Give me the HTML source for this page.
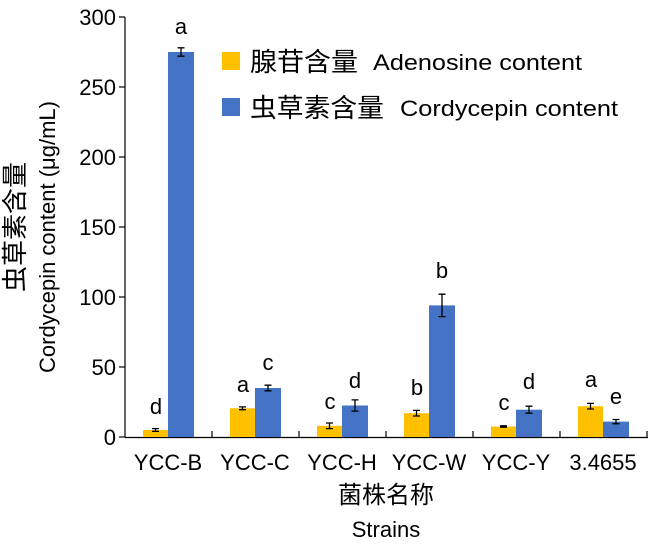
<!DOCTYPE html>
<html><head><meta charset="utf-8"><style>
html,body{margin:0;padding:0;background:#fff;}
svg text{font-family:"Liberation Sans","Noto Sans CJK SC",sans-serif;fill:#000;}
</style></head><body>
<svg width="650" height="549" viewBox="0 0 650 549" xmlns="http://www.w3.org/2000/svg">
<g font-size="22">
<line x1="125" y1="17" x2="125" y2="437.5" stroke="#000" stroke-width="1.2"/>
<line x1="125" y1="437.5" x2="648" y2="437.5" stroke="#000" stroke-width="1.2"/>
<g stroke="#000" stroke-width="1.2">
<line x1="119" y1="17" x2="125" y2="17"/><line x1="119" y1="87" x2="125" y2="87"/>
<line x1="119" y1="157" x2="125" y2="157"/><line x1="119" y1="227" x2="125" y2="227"/>
<line x1="119" y1="297" x2="125" y2="297"/><line x1="119" y1="367" x2="125" y2="367"/>
<line x1="119" y1="437" x2="125" y2="437"/>
<line x1="212" y1="431" x2="212" y2="437"/><line x1="299" y1="431" x2="299" y2="437"/>
<line x1="386" y1="431" x2="386" y2="437"/><line x1="473" y1="431" x2="473" y2="437"/>
<line x1="560" y1="431" x2="560" y2="437"/><line x1="647" y1="431" x2="647" y2="437"/>
</g>
<g text-anchor="end">
<text x="116" y="25">300</text><text x="116" y="95">250</text><text x="116" y="165">200</text>
<text x="116" y="235">150</text><text x="116" y="305">100</text><text x="116" y="375">50</text>
<text x="116" y="445">0</text>
</g>
<g fill="#FFC000">
<rect x="143" y="430" width="25" height="7"/>
<rect x="230" y="408.3" width="25" height="28.7"/>
<rect x="317" y="425.8" width="25" height="11.2"/>
<rect x="404" y="413.2" width="25" height="23.8"/>
<rect x="491" y="426.5" width="25" height="10.5"/>
<rect x="578" y="406.2" width="25" height="30.8"/>
</g>
<g fill="#4472C4">
<rect x="168" y="52" width="26" height="385"/>
<rect x="255" y="388" width="26" height="49"/>
<rect x="342" y="405.5" width="26" height="31.5"/>
<rect x="429" y="305.4" width="26" height="131.6"/>
<rect x="516" y="409.7" width="26" height="27.3"/>
<rect x="603" y="421.6" width="26" height="15.4"/>
</g>
<g stroke="#000" stroke-width="1.3">
<path d="M155.5 428.6V431.4M152 428.6h7M152 431.4h7"/>
<path d="M181 47.8V56.2M177.5 47.8h7M177.5 56.2h7"/>
<path d="M242.5 406.9V409.7M239 406.9h7M239 409.7h7"/>
<path d="M268 385.2V390.8M264.5 385.2h7M264.5 390.8h7"/>
<path d="M329.5 423V428.6M326 423h7M326 428.6h7"/>
<path d="M355 399.9V411.1M351.5 399.9h7M351.5 411.1h7"/>
<path d="M416.5 410.4V416M413 410.4h7M413 416h7"/>
<path d="M442 294.2V316.6M438.5 294.2h7M438.5 316.6h7"/>
<path d="M503.5 425.8V427.2M500 425.8h7M500 427.2h7"/>
<path d="M529 406.2V413.2M525.5 406.2h7M525.5 413.2h7"/>
<path d="M590.5 403.4V409M587 403.4h7M587 409h7"/>
<path d="M616 419.5V423.7M612.5 419.5h7M612.5 423.7h7"/>
</g>
<g text-anchor="middle">
<text x="156" y="414">d</text><text x="181" y="34">a</text>
<text x="243" y="392">a</text><text x="268" y="370">c</text>
<text x="330" y="409">c</text><text x="355" y="388">d</text>
<text x="417" y="395">b</text><text x="442" y="278">b</text>
<text x="504" y="410">c</text><text x="529" y="389">d</text>
<text x="591" y="387">a</text><text x="616" y="404">e</text>
</g>
<g text-anchor="middle">
<text x="168" y="470">YCC-B</text><text x="255" y="470">YCC-C</text>
<text x="342" y="470">YCC-H</text><text x="429" y="470">YCC-W</text>
<text x="516" y="470">YCC-Y</text><text x="603" y="470">3.4655</text>
<text x="386" y="503" font-size="24">菌株名称</text>
<text x="386" y="537">Strains</text>
</g>
<rect x="222" y="52" width="18" height="18" fill="#FFC000"/>
<rect x="222" y="98" width="18" height="18" fill="#4472C4"/>
<text x="250" y="71" font-size="26" textLength="108" lengthAdjust="spacingAndGlyphs">腺苷含量</text>
<text x="373" y="70" textLength="209" lengthAdjust="spacingAndGlyphs">Adenosine content</text>
<text x="250" y="117" font-size="26" textLength="134" lengthAdjust="spacingAndGlyphs">虫草素含量</text>
<text x="400" y="116" textLength="218" lengthAdjust="spacingAndGlyphs">Cordycepin content</text>
<text transform="translate(24,227) rotate(-90)" text-anchor="middle" font-size="26">虫草素含量</text>
<text transform="translate(55,237) rotate(-90)" text-anchor="middle">Cordycepin content (μg/mL)</text>
</g>
</svg>
</body></html>
